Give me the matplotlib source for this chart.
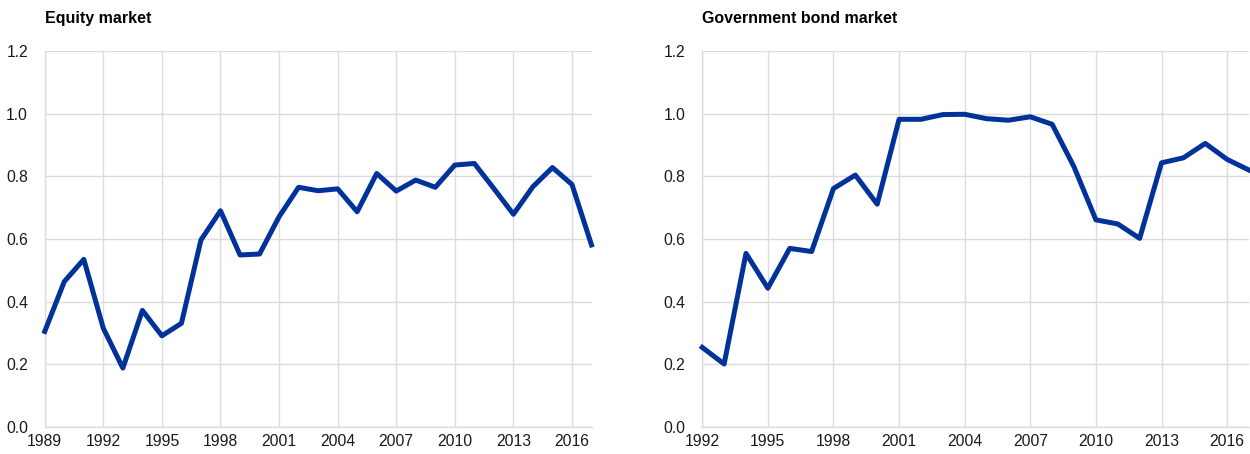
import numpy as np
import matplotlib
matplotlib.use("Agg")
import matplotlib.pyplot as plt

plt.rcParams['font.family'] = ['Liberation Sans', 'DejaVu Sans']

eq_years = np.arange(1989, 2018)
eq_vals = [0.305, 0.464, 0.535, 0.315, 0.188, 0.372, 0.291, 0.331, 0.597, 0.690,
           0.549, 0.552, 0.671, 0.765, 0.754, 0.760, 0.687, 0.809, 0.753, 0.788,
           0.765, 0.836, 0.841, 0.761, 0.679, 0.767, 0.828, 0.774, 0.581]

gb_years = np.arange(1992, 2018)
gb_vals = [0.254, 0.201, 0.554, 0.443, 0.570, 0.560, 0.761, 0.804, 0.711, 0.982,
           0.982, 0.997, 0.998, 0.984, 0.979, 0.990, 0.966, 0.830, 0.661, 0.648,
           0.602, 0.843, 0.859, 0.905, 0.854, 0.820]

eq_ticks = [1989, 1992, 1995, 1998, 2001, 2004, 2007, 2010, 2013, 2016]
gb_ticks = [1992, 1995, 1998, 2001, 2004, 2007, 2010, 2013, 2016]
y_ticks = [0.0, 0.2, 0.4, 0.6, 0.8, 1.0, 1.2]

blue = '#003299'
grid = '#dcdcdc'

fig = plt.figure(figsize=(12.5, 4.54), dpi=100)
ax1 = fig.add_axes([0.0358, 0.0595, 0.4374, 0.8282])
ax2 = fig.add_axes([0.5618, 0.0595, 0.4374, 0.8282])

panels = [(ax1, eq_years, eq_vals, eq_ticks, 'Equity market'),
          (ax2, gb_years, gb_vals, gb_ticks, 'Government bond market')]

for ax, yrs, vals, ticks, title in panels:
    ax.plot(yrs, vals, color=blue, lw=3.6, clip_on=False, zorder=3)
    ax.set_xlim(yrs[0], 2017)
    ax.set_ylim(0, 1.2)
    ax.set_xticks(ticks)
    ax.set_yticks(y_ticks)
    ax.set_yticklabels(['%.1f' % v for v in y_ticks])
    ax.grid(True, color=grid, lw=1)
    ax.set_axisbelow(True)
    for s in ['top', 'right']:
        ax.spines[s].set_visible(False)
    for s in ['left', 'bottom']:
        ax.spines[s].set_color(grid)
        ax.spines[s].set_linewidth(1)
    ax.tick_params(length=0, labelsize=11.3, colors='#1a1a1a', pad=5)
    ax.tick_params(axis='y', pad=12)
    ax.set_title(title, loc='left', fontsize=11.5, fontweight='bold', pad=20)

fig.savefig('out.png', dpi=100)
